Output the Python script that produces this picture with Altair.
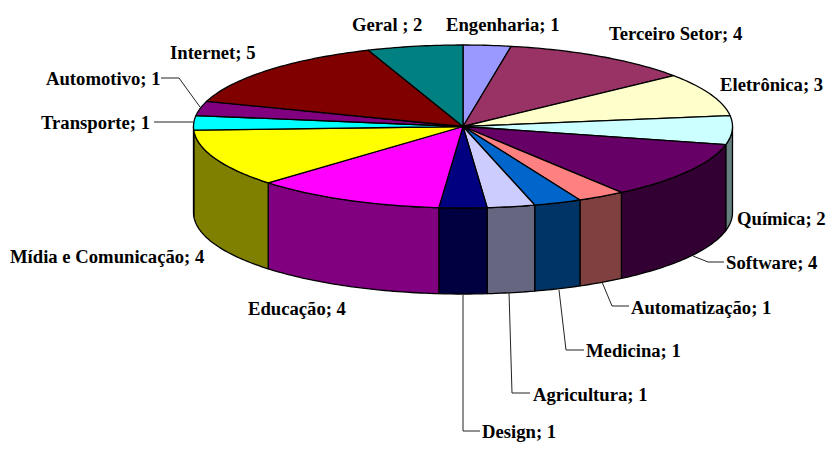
import math
import altair as alt

# --- data ---
names = ["Engenharia", "Terceiro Setor", "Eletrônica", "Química", "Software",
         "Automatização", "Medicina", "Agricultura", "Design", "Educação",
         "Mídia e Comunicação", "Transporte", "Automotivo", "Internet", "Geral"]
values = [1, 4, 3, 2, 4, 1, 1, 1, 1, 4, 4, 1, 1, 5, 2]
top_colors = ["#9999FF", "#993366", "#FFFFCC", "#CCFFFF", "#660066",
              "#FF8080", "#0066CC", "#CCCCFF", "#000080", "#FF00FF",
              "#FFFF00", "#00FFFF", "#800080", "#800000", "#008080"]
side_colors = ["#4C4C80", "#4C1933", "#808066", "#668080", "#330033",
               "#804040", "#003366", "#666680", "#000040", "#800080",
               "#808000", "#008080", "#400040", "#400000", "#004040"]
labels = ["Engenharia; 1", "Terceiro Setor; 4", "Eletrônica; 3", "Química; 2",
          "Software; 4", "Automatização; 1", "Medicina; 1", "Agricultura; 1",
          "Design; 1", "Educação; 4", "Mídia e Comunicação; 4", "Transporte; 1",
          "Automotivo; 1", "Internet; 5", "Geral ; 2"]

# --- layout (page pixels) ---
label_x = [446, 609, 720, 737, 726, 631, 586, 533, 482, 248, 10, 41, 46, 170, 352]
label_y = [25, 34, 85, 219, 263, 308, 351, 395, 432, 309, 257, 123, 79, 53, 25]
leaders = {
    "Automotivo": [(161, 78), (179, 78), (200, 107)],
    "Transporte": [(154, 122), (193, 122)],
    "Software": [(693, 256), (708, 262), (724, 262)],
    "Automatização": [(602, 282), (612, 306), (629, 306)],
    "Medicina": [(559, 290), (566, 350), (584, 350)],
    "Agricultura": [(509, 292), (512, 393), (530, 393)],
    "Design": [(463, 295), (463, 431), (480, 431)],
}
CX, CY, RX, RY, DEPTH = 463, 126.5, 269.5, 81.5, 86
MARGIN = 8


def rim(deg, drop=0.0):
    r = math.radians(deg)
    return [CX + RX * math.sin(r), CY - RY * math.cos(r) + drop]


def arc(a, b, drop=0.0):
    n = max(2, int(abs(b - a)) + 2)
    return [rim(a + (b - a) * i / (n - 1), drop) for i in range(n)]


def feature(ring, color):
    return {"type": "Feature",
            "geometry": {"type": "Polygon", "coordinates": [ring]},
            "properties": {"color": color}}


tops, sides = [], []
total = sum(values)
start = 0.0
for v, tc, sc in zip(values, top_colors, side_colors):
    end = start + 360.0 * v / total
    ring = [[CX, CY]] + arc(start, end) + [[CX, CY]]
    tops.append(feature(ring, tc))
    a, b = max(start, 90.0), min(end, 270.0)
    if b > a:
        ring = arc(a, b) + arc(b, a, DEPTH)
        ring.append(ring[0])
        sides.append(feature(ring, sc))
    start = end

projection = alt.Projection(type="identity", scale=1, translate=[-MARGIN, -MARGIN])


def polys(features):
    return (
        alt.Chart(alt.InlineData(values={"type": "FeatureCollection", "features": features},
                                 format=alt.DataFormat(property="features", type="json")))
        .mark_geoshape(stroke="black", strokeWidth=1.3, strokeJoin="round")
        .encode(fill=alt.Fill("properties.color:N", scale=None))
        .project(**projection.to_dict())
    )


leader_rows = [
    {"name": k, "i": i, "x": p[0] - MARGIN, "y": p[1] - MARGIN}
    for k, pts in leaders.items() for i, p in enumerate(pts)
]
leader_layer = (
    alt.Chart(alt.Data(values=leader_rows))
    .mark_line(color="#222222", strokeWidth=1)
    .encode(x=alt.X("x:Q", scale=None, axis=None),
            y=alt.Y("y:Q", scale=None, axis=None),
            detail="name:N", order="i:Q")
)

text_rows = [{"t": t, "x": x - MARGIN, "y": y - MARGIN}
             for t, x, y in zip(labels, label_x, label_y)]
text_layer = (
    alt.Chart(alt.Data(values=text_rows))
    .mark_text(font="Liberation Serif", fontWeight="bold", fontSize=18.67,
               align="left", baseline="middle", color="black")
    .encode(x=alt.X("x:Q", scale=None, axis=None),
            y=alt.Y("y:Q", scale=None, axis=None),
            text="t:N")
)

chart = (
    alt.layer(polys(sides), polys(tops), leader_layer, text_layer)
    .resolve_scale(x="independent", y="independent")
    .properties(width=820, height=434, padding=0, autosize=alt.AutoSizeParams(type="none"))
    .configure_view(stroke=None)
)
chart.save("out.html", embed_options={"renderer": "svg", "actions": False})
